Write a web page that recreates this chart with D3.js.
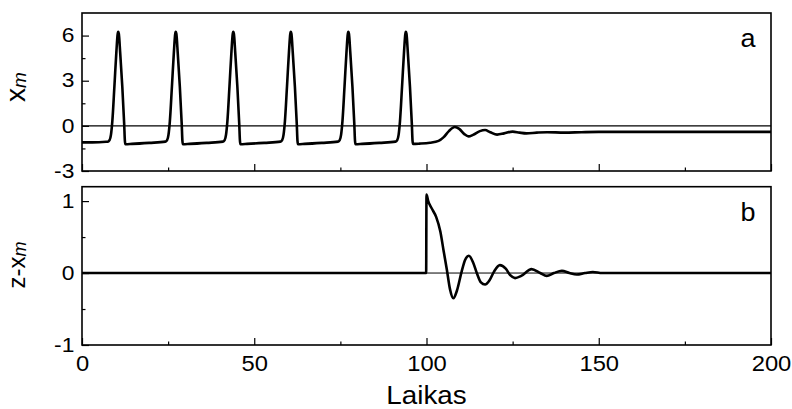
<!DOCTYPE html>
<html><head><meta charset="utf-8">
<script src="https://cdn.jsdelivr.net/npm/d3@7"></script>
<style>body{margin:0;background:#fff} svg{display:block;font-family:"Liberation Sans",Arial,sans-serif}</style>
</head><body><svg id="c" width="792" height="409"></svg>
<script>
// Panel a: x_m(t)
const timeA = [0,3,7,
 7.5,8.0,8.4,8.8,9.4,10.0,10.35,10.5,10.7,11.1,11.7,12.25,12.45,12.6,14.5,19.5,
 24.2,24.7,25.1,25.5,26.1,26.7,27.05,27.2,27.4,27.8,28.4,28.95,29.15,29.3,31.2,36.2,
 40.9,41.4,41.8,42.2,42.8,43.4,43.75,43.9,44.1,44.5,45.1,45.65,45.85,46.0,47.9,52.9,
 57.6,58.1,58.5,58.9,59.5,60.1,60.45,60.6,60.8,61.2,61.8,62.35,62.55,62.7,64.6,69.6,
 74.3,74.8,75.2,75.6,76.2,76.8,77.15,77.3,77.5,77.9,78.5,79.05,79.25,79.4,81.3,86.3,
 91.0,91.5,91.9,92.3,92.9,93.5,93.85,94.0,94.2,94.6,95.2,95.75,95.95,96.1,
 98,101,103.5,105,106.5,108.2,109.5,111,112.2,113.5,115.5,117,118.5,120.5,122.5,125,127,129,132,135,140,145,150,160,200];
const xmA = [-1.1,-1.1,-1.06,
 -1.05,-0.95,-0.6,0.3,2.6,5.0,6.1,6.25,6.1,4.8,2.6,0.1,-1.0,-1.22,-1.2,-1.13,
 -1.05,-0.95,-0.6,0.3,2.6,5.0,6.1,6.25,6.1,4.8,2.6,0.1,-1.0,-1.22,-1.2,-1.13,
 -1.05,-0.95,-0.6,0.3,2.6,5.0,6.1,6.25,6.1,4.8,2.6,0.1,-1.0,-1.22,-1.2,-1.13,
 -1.05,-0.95,-0.6,0.3,2.6,5.0,6.1,6.25,6.1,4.8,2.6,0.1,-1.0,-1.22,-1.2,-1.13,
 -1.05,-0.95,-0.6,0.3,2.6,5.0,6.1,6.25,6.1,4.8,2.6,0.1,-1.0,-1.22,-1.2,-1.13,
 -1.05,-0.95,-0.6,0.3,2.6,5.0,6.1,6.25,6.1,4.8,2.6,0.1,-1.0,-1.2,
 -1.18,-1.12,-1.0,-0.75,-0.35,-0.08,-0.2,-0.55,-0.7,-0.6,-0.35,-0.28,-0.42,-0.58,-0.5,-0.38,-0.45,-0.5,-0.45,-0.42,-0.45,-0.42,-0.4,-0.4,-0.4];
// Panel b: z - x_m
const timeB = [0,99.9,100,100.5,101.5,102.8,104,105,105.9,106.8,107.8,108.8,110.2,111.2,112.3,113.5,114.6,115.8,117,118.3,119.6,121.3,123,124.3,125.7,127.5,130.5,133,134.9,137,139.3,141.5,143.6,146,148.3,151,200];
const zxB = [0,0,1.09,1.0,0.9,0.78,0.58,0.3,0.05,-0.22,-0.35,-0.25,0.02,0.18,0.24,0.15,0,-0.13,-0.16,-0.1,0.02,0.11,0.06,-0.03,-0.07,-0.04,0.055,0,-0.04,0,0.03,0,-0.02,0,0.015,0,0];

const xTicks = [0,50,100,150,200];
const xMinor = [25,75,125,175];
const yTicksA = [-3,0,3,6];
const yMinorA = [-1.5,1.5,4.5];
const yTicksB = [-1,0,1];
const yMinorB = [-0.5,0.5];
const xLabel = "Laikas";
const panelLabels = ["a","b"];

const svg = d3.select("#c");
const L = 82, R = 771;
const x = d3.scaleLinear().domain([0,200]).range([L,R]);
const yA = d3.scaleLinear().domain([-3,7.5]).range([171,13]);
const yB = d3.scaleLinear().domain([-1,1.2]).range([345,186.7]);
const fmt = d => String(d);

function panel(id, y, yT, yMin, tv, vals, showX, lab, zeroThin){
  const top = y.range()[1], bot = y.range()[0];
  const g = svg.append("g");
  g.append("clipPath").attr("id","cl"+id).append("rect")
    .attr("x",L).attr("y",top).attr("width",R-L).attr("height",bot-top);
  g.append("line").attr("x1",L).attr("x2",R).attr("y1",y(0)).attr("y2",y(0))
    .attr("stroke","#000").attr("stroke-width",zeroThin);
  const line = d3.line().x(d=>x(d[0])).y(d=>y(d[1])).curve(d3.curveMonotoneX);
  g.append("path").attr("clip-path","url(#cl"+id+")")
    .attr("d", line(tv.map((t,i)=>[t,vals[i]])))
    .attr("fill","none").attr("stroke","#000").attr("stroke-width",2.6)
    .attr("stroke-linejoin","round");
  const xa = g.append("g").attr("transform",`translate(0,${bot})`)
    .call(d3.axisBottom(x).tickValues(xTicks).tickSize(-7).tickPadding(10)
      .tickFormat(showX ? fmt : ""));
  const xm = g.append("g").attr("transform",`translate(0,${bot})`)
    .call(d3.axisBottom(x).tickValues(xMinor).tickSize(-3.5).tickFormat(""));
  const ya = g.append("g").attr("transform",`translate(${L},0)`)
    .call(d3.axisLeft(y).tickValues(yT).tickSize(-7).tickPadding(7).tickFormat(fmt));
  const ym = g.append("g").attr("transform",`translate(${L},0)`)
    .call(d3.axisLeft(y).tickValues(yMin).tickSize(-3.5).tickFormat(""));
  [xa,xm,ya,ym].forEach(a=>{
    a.select(".domain").remove();
    a.selectAll("line").attr("stroke","#000").attr("stroke-width",1.2);
    a.selectAll("text").attr("fill","#000").attr("font-family","'Liberation Sans',Arial,sans-serif");
  });
  xa.selectAll("text").attr("font-size",22).attr("transform","scale(1.08,1)");
  ya.selectAll("text").attr("font-size",19.5).attr("transform","scale(1.17,1)").attr("x",-6.5);
  g.append("rect").attr("x",L).attr("y",top).attr("width",R-L).attr("height",bot-top)
    .attr("fill","none").attr("stroke","#000").attr("stroke-width",1.6);
  g.append("text").attr("transform",`translate(748,${top+34}) scale(1.08,1)`).attr("text-anchor","middle")
    .attr("font-size",25).attr("fill","#000").text(lab);
  return g;
}
panel("A", yA, yTicksA, yMinorA, timeA, xmA, false, panelLabels[0], 1.3);
panel("B", yB, yTicksB, yMinorB, timeB, zxB, true, panelLabels[1], 1.0);

// y labels
const la = svg.append("text").attr("transform","translate(25,87) rotate(-90)")
  .attr("text-anchor","middle").attr("font-size",28).attr("fill","#000");
la.append("tspan").text("x");
la.append("tspan").attr("font-style","italic").attr("font-size",19).attr("dy",1).text("m");
const lb = svg.append("text").attr("transform","translate(25,265) rotate(-90)")
  .attr("text-anchor","middle").attr("font-size",24).attr("fill","#000");
lb.append("tspan").text("z-x");
lb.append("tspan").attr("font-style","italic").attr("font-size",18).attr("dy",1).text("m");

svg.append("text").attr("transform",`translate(${(L+R)/2},404) scale(1.07,1)`).attr("text-anchor","middle")
  .attr("font-size",26).attr("fill","#000").text(xLabel);
</script></body></html>
